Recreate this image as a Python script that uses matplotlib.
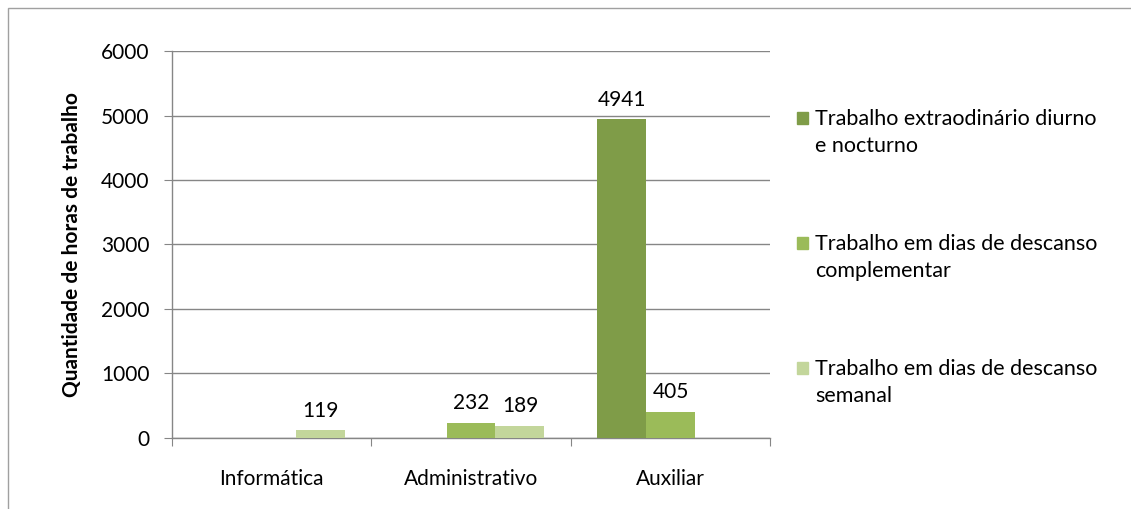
import numpy as np
import matplotlib.pyplot as plt
from matplotlib.patches import Rectangle

# Data
categories = ['Informática', 'Administrativo', 'Auxiliar']
series_names = ['Trabalho extraodinário diurno\ne nocturno',
                'Trabalho em dias de descanso\ncomplementar',
                'Trabalho em dias de descanso\nsemanal']
extraordinario = [np.nan, np.nan, 4941]
complementar = [np.nan, 232, 405]
semanal = [119, 189, np.nan]
colors = ['#7F9C48', '#9BBB59', '#C3D69B']

plt.rcParams['font.family'] = ['Lato', 'DejaVu Sans']

fig = plt.figure(figsize=(11.31, 5.09), dpi=100)
ax = fig.add_axes([0.152, 0.1395, 0.529, 0.7603])

# outer chart frame
fig.patches.append(Rectangle((8 / 1131, -0.01), 1.1, 1.01 - 8 / 509,
                             transform=fig.transFigure, fill=False,
                             edgecolor='#A0A0A0', linewidth=1))

x = np.arange(len(categories))
width = 0.245
all_series = [extraordinario, complementar, semanal]
for i, vals in enumerate(all_series):
    pos = x + (i - 1) * width
    v = np.array(vals, dtype=float)
    ax.bar(pos, np.nan_to_num(v), width, color=colors[i], zorder=3)
    for p, val in zip(pos, v):
        if not np.isnan(val):
            ax.text(p, val + 150, f'{int(val)}', ha='center', va='bottom',
                    fontsize=15, color='#000000')

ax.set_xlim(-0.5, 2.5)
ax.set_ylim(0, 6000)
ax.set_yticks(np.arange(0, 6001, 1000))
ax.yaxis.grid(True, color='#868686', linewidth=1, zorder=0)
ax.set_axisbelow(True)

ax.set_xticks([-0.5, 0.5, 1.5, 2.5])
ax.set_xticklabels([])
ax.set_xticks(x, minor=True)
ax.set_xticklabels(categories, minor=True)
ax.tick_params(axis='x', which='major', length=6, direction='out', color='#868686')
ax.tick_params(axis='x', which='minor', length=0, pad=22, labelsize=15)
ax.tick_params(axis='y', length=6, direction='out', color='#868686', labelsize=15, pad=10)

for s in ['top', 'right']:
    ax.spines[s].set_visible(False)
for s in ['left', 'bottom']:
    ax.spines[s].set_color('#868686')
    ax.spines[s].set_linewidth(1)

ax.set_ylabel('Quantidade de horas de trabalho', fontsize=15, fontweight='bold',
              labelpad=14)

# legend drawn by hand so the square lines up with the first text line
for i, name in enumerate(series_names):
    ytop = 1 - (109 + i * 125) / 509
    fig.patches.append(Rectangle((797 / 1131, ytop - 15 / 509), 11 / 1131, 12 / 509,
                                 transform=fig.transFigure, color=colors[i]))
    fig.text(815 / 1131, ytop, name, ha='left', va='top', fontsize=15.5,
             linespacing=1.42)

fig.savefig('out.png', dpi=100)
